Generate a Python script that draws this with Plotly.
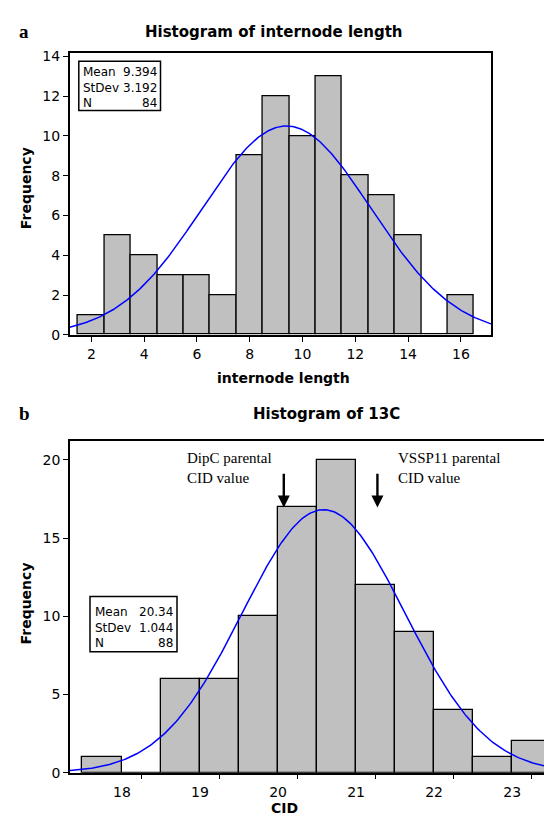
import numpy as np
import plotly.graph_objects as go

W, H = 552, 816

# panel a: internode length (bin midpoints, width 1)
a_mids = [2, 3, 4, 5, 6, 7, 8, 9, 10, 11, 12, 13, 14, 15, 16]
a_counts = [1, 5, 4, 3, 3, 2, 9, 12, 10, 13, 8, 7, 5, 0, 2]
a_stats = {"Mean": "9.394", "StDev": "3.192", "N": "84"}
a_mean, a_sd, a_n, a_width = 9.394, 3.192, 84, 1.0
a_xticks = [2, 4, 6, 8, 10, 12, 14, 16]
a_yticks = [0, 2, 4, 6, 8, 10, 12, 14]

# panel b: 13C / CID (bin midpoints, width 0.5)
b_mids = [17.5, 18.0, 18.5, 19.0, 19.5, 20.0, 20.5, 21.0, 21.5, 22.0, 22.5, 23.0]
b_counts = [1, 0, 6, 6, 10, 17, 20, 12, 9, 4, 1, 2]
b_stats = {"Mean": "20.34", "StDev": "1.044", "N": "88"}
b_mean, b_sd, b_n, b_width = 20.34, 1.044, 88, 0.5
b_xticks = [18, 19, 20, 21, 22, 23]
b_yticks = [0, 5, 10, 15, 20]

A_XRANGE = [1.18, 17.14]
A_YRANGE = [0, 14.15]
B_XRANGE = [17.09, 23.37]
B_YRANGE = [0, 21.2]

SANS = "DejaVu Sans"
SERIF = "Liberation Serif"


def px_x(p):
    return p / W


def px_y(p):
    return 1 - p / H


def normal_fit(mean, sd, n, width, rng):
    x = np.linspace(rng[0], rng[1], 300)
    y = n * width * np.exp(-0.5 * ((x - mean) / sd) ** 2) / (sd * np.sqrt(2 * np.pi))
    return x, y


fig = go.Figure()

bar_style = dict(marker=dict(color="#c0c0c0", line=dict(color="black", width=1.3)),
                 showlegend=False, hoverinfo="x+y")

fig.add_trace(go.Bar(x=a_mids, y=a_counts, width=a_width, xaxis="x", yaxis="y", **bar_style))
cx, cy = normal_fit(a_mean, a_sd, a_n, a_width, A_XRANGE)
fig.add_trace(go.Scatter(x=cx, y=cy, mode="lines", line=dict(color="#0000ff", width=1.5),
                         xaxis="x", yaxis="y", showlegend=False))

fig.add_trace(go.Bar(x=b_mids, y=b_counts, width=b_width, xaxis="x2", yaxis="y2", **bar_style))
cx, cy = normal_fit(b_mean, b_sd, b_n, b_width, B_XRANGE)
fig.add_trace(go.Scatter(x=cx, y=cy, mode="lines", line=dict(color="#0000ff", width=1.5),
                         xaxis="x2", yaxis="y2", showlegend=False))

axis_common = dict(showline=True, linecolor="black", linewidth=1.5, ticks="outside",
                   ticklen=5, tickwidth=1.3, tickcolor="black", showgrid=False,
                   zeroline=False, tickfont=dict(family=SANS, size=14, color="black"))

fig.update_layout(
    width=W, height=H,
    margin=dict(l=0, r=0, t=0, b=0),
    paper_bgcolor="white", plot_bgcolor="white",
    bargap=0,
    xaxis=dict(domain=[px_x(61.7), px_x(483)], range=A_XRANGE, anchor="y",
               tickvals=a_xticks, mirror=True, ticklabelstandoff=1, **axis_common),
    yaxis=dict(domain=[px_y(327), px_y(41)], range=A_YRANGE, anchor="x",
               tickvals=a_yticks, mirror=True, **axis_common),
    xaxis2=dict(domain=[px_x(62), 1.0], range=B_XRANGE, anchor="y2",
                tickvals=b_xticks, mirror=True, ticklabelshift=-19, ticklabelstandoff=1,
                **axis_common),
    yaxis2=dict(domain=[px_y(772), px_y(435)], range=B_YRANGE, anchor="x2",
                tickvals=b_yticks, mirror=False, **axis_common),
)

ann = []
# panel letters and titles
ann.append(dict(text="<b>a</b>", x=px_x(16), y=px_y(19), font=dict(family=SERIF, size=19)))
ann.append(dict(text="<b>b</b>", x=px_x(16), y=px_y(407), font=dict(family=SERIF, size=19)))
ann.append(dict(text="<b>Histogram of internode length</b>", x=px_x(266), y=px_y(19),
                font=dict(family=SANS, size=15)))
ann.append(dict(text="<b>Histogram of 13C</b>", x=px_x(318), y=px_y(407),
                font=dict(family=SANS, size=15)))
# axis titles
ann.append(dict(text="<b>internode length</b>", x=px_x(275), y=px_y(371),
                font=dict(family=SANS, size=14)))
ann.append(dict(text="<b>CID</b>", x=px_x(276), y=px_y(808), font=dict(family=SANS, size=14)))
ann.append(dict(text="<b>Frequency</b>", x=px_x(18), y=px_y(178), textangle=-90,
                font=dict(family=SANS, size=14)))
ann.append(dict(text="<b>Frequency</b>", x=px_x(18), y=px_y(600), textangle=-90,
                font=dict(family=SANS, size=14)))

# parental CID annotations
ann.append(dict(text="DipC parental<br>CID value", xref="x2", yref="y2", x=18.56, y=20.75,
                xanchor="left", yanchor="top", align="left",
                font=dict(family=SERIF, size=15)))
ann.append(dict(text="VSSP11 parental<br>CID value", xref="x2", yref="y2", x=21.27, y=20.75,
                xanchor="left", yanchor="top", align="left",
                font=dict(family=SERIF, size=15)))
for ax_x in [19.83, 21.03]:
    ann.append(dict(text="", xref="x2", yref="y2", x=ax_x, y=16.95, axref="x2", ayref="y2",
                    ax=ax_x, ay=19.2, showarrow=True, arrowhead=2, arrowsize=1,
                    arrowwidth=2.4, arrowcolor="black"))

# stats boxes
shapes = []


def stats_box(stats, x0, x1, y0, y1, lx, rx, ty):
    shapes.append(dict(type="rect", xref="paper", yref="paper", x0=px_x(x0), x1=px_x(x1),
                       y0=px_y(y1), y1=px_y(y0), line=dict(color="black", width=1.5),
                       fillcolor="white", layer="above"))
    ann.append(dict(text="<br>".join(stats.keys()), x=px_x(lx), y=px_y(ty), xanchor="left",
                    yanchor="top", align="left", font=dict(family=SANS, size=12)))
    ann.append(dict(text="<br>".join(stats.values()), x=px_x(rx), y=px_y(ty), xanchor="right",
                    yanchor="top", align="right", font=dict(family=SANS, size=12)))


stats_box(a_stats, 70.8, 152.5, 49, 99, 73, 151, 51)
stats_box(b_stats, 82, 169, 593, 649, 85, 167, 600)

for a in ann:
    a.setdefault("xref", "paper")
    a.setdefault("yref", "paper")
    a.setdefault("xanchor", "center")
    a.setdefault("yanchor", "middle")
    a.setdefault("showarrow", False)
    a.setdefault("font", {})
    a["font"].setdefault("color", "black")

fig.update_layout(annotations=ann, shapes=shapes)

fig.write_html("out.html")
